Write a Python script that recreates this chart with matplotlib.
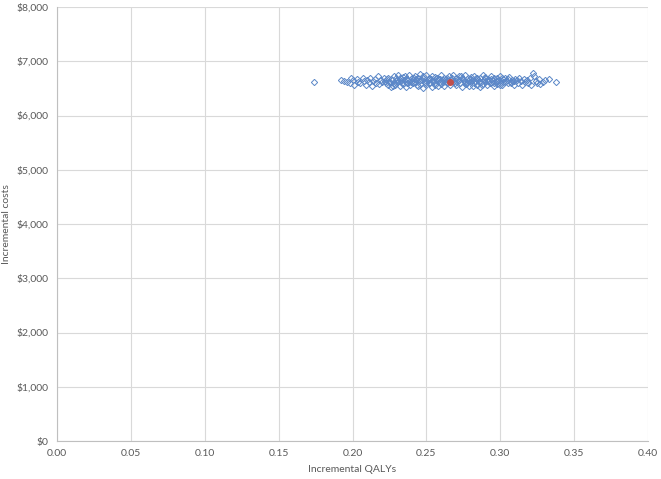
import matplotlib
matplotlib.use("Agg")
import matplotlib.pyplot as plt
from matplotlib.ticker import FuncFormatter

# probabilistic sensitivity analysis draws
qaly_left = [0.174, 0.192, 0.194, 0.196, 0.198, 0.199, 0.200, 0.201, 0.203, 0.204,
             0.205, 0.207, 0.208, 0.209, 0.210, 0.211, 0.212, 0.213, 0.214, 0.215,
             0.216, 0.217, 0.218, 0.219, 0.220, 0.221]
cost_left = [6610, 6660, 6640, 6620, 6600, 6700, 6650, 6560, 6680, 6620,
             6590, 6700, 6640, 6570, 6660, 6610, 6690, 6550, 6630, 6670,
             6600, 6720, 6580, 6650, 6620, 6690]

qaly_core = [0.222, 0.223, 0.224, 0.224, 0.225, 0.226, 0.226, 0.227, 0.228, 0.228,
             0.229, 0.230, 0.230, 0.231, 0.232, 0.232, 0.233, 0.234, 0.234, 0.235,
             0.236, 0.236, 0.237, 0.238, 0.238, 0.239, 0.240, 0.240, 0.241, 0.242,
             0.242, 0.243, 0.244, 0.244, 0.245, 0.246, 0.246, 0.247, 0.248, 0.248,
             0.249, 0.250, 0.250, 0.251, 0.252, 0.252, 0.253, 0.254, 0.254, 0.255,
             0.256, 0.256, 0.257, 0.258, 0.258, 0.259, 0.260, 0.260, 0.261, 0.262,
             0.262, 0.263, 0.264, 0.264, 0.265, 0.266, 0.267, 0.268, 0.268, 0.269,
             0.270, 0.270, 0.271, 0.272, 0.272, 0.273, 0.274, 0.274, 0.275, 0.276,
             0.276, 0.277, 0.278, 0.278, 0.279, 0.280, 0.280, 0.281, 0.282, 0.282,
             0.283, 0.284, 0.284, 0.285, 0.286, 0.286, 0.287, 0.288, 0.288, 0.289,
             0.290, 0.290, 0.291, 0.292, 0.292, 0.293, 0.294, 0.294, 0.295, 0.296,
             0.296, 0.297, 0.298, 0.298, 0.299, 0.300, 0.300, 0.301, 0.302, 0.302,
             0.303, 0.304, 0.305, 0.306, 0.307, 0.308, 0.309, 0.310]
cost_core = [6640, 6590, 6700, 6560, 6620, 6680, 6530, 6650, 6600, 6720,
             6570, 6660, 6610, 6740, 6540, 6690, 6630, 6580, 6710, 6650,
             6520, 6680, 6600, 6750, 6620, 6560, 6700, 6640, 6590, 6730,
             6610, 6670, 6540, 6700, 6630, 6760, 6580, 6660, 6510, 6690,
             6620, 6740, 6570, 6650, 6700, 6600, 6680, 6530, 6720, 6640,
             6590, 6710, 6660, 6550, 6680, 6620, 6740, 6580, 6650, 6700,
             6540, 6630, 6690, 6600, 6720, 6570, 6660, 6610, 6750, 6640,
             6690, 6560, 6620, 6730, 6650, 6590, 6700, 6520, 6670, 6610,
             6740, 6580, 6640, 6690, 6550, 6710, 6620, 6660, 6590, 6730,
             6630, 6570, 6700, 6650, 6530, 6690, 6610, 6740, 6580, 6660,
             6620, 6710, 6560, 6680, 6640, 6590, 6730, 6610, 6660, 6540,
             6700, 6630, 6580, 6690, 6650, 6720, 6600, 6560, 6670, 6620,
             6690, 6640, 6590, 6710, 6620, 6660, 6570, 6680]

qaly_fill = [0.2235, 0.2255, 0.2275, 0.2295, 0.2315, 0.2335, 0.2355, 0.2375, 0.2395, 0.2415,
             0.2435, 0.2455, 0.2475, 0.2495, 0.2515, 0.2535, 0.2555, 0.2575, 0.2595, 0.2615,
             0.2635, 0.2655, 0.2675, 0.2695, 0.2715, 0.2735, 0.2755, 0.2775, 0.2795, 0.2815,
             0.2835, 0.2855, 0.2875, 0.2895, 0.2915, 0.2935, 0.2955, 0.2975, 0.2995, 0.3015,
             0.3035, 0.3055, 0.3075, 0.3095]
cost_fill = [6670, 6610, 6550, 6700, 6640, 6590, 6720, 6660, 6610, 6690,
             6560, 6650, 6720, 6600, 6680, 6630, 6560, 6700, 6680, 6610,
             6670, 6650, 6700, 6590, 6680, 6720, 6640, 6600, 6670, 6550,
             6690, 6610, 6560, 6700, 6630, 6670, 6590, 6640, 6560, 6700,
             6620, 6670, 6600, 6640]

qaly_right = [0.311, 0.312, 0.313, 0.314, 0.315, 0.316, 0.317, 0.318, 0.319, 0.320,
              0.321, 0.322, 0.323, 0.324, 0.325, 0.326, 0.327, 0.329, 0.330, 0.333,
              0.338]
cost_right = [6650, 6600, 6700, 6630, 6560, 6680, 6620, 6650, 6590, 6700,
              6560, 6790, 6720, 6640, 6600, 6680, 6580, 6620, 6650, 6670,
              6620]

mean_qaly = 0.266
mean_cost = 6625

qalys = qaly_left + qaly_core + qaly_fill + qaly_right
costs = cost_left + cost_core + cost_fill + cost_right

plt.rcParams['font.family'] = ['Lato', 'DejaVu Sans']

fig = plt.figure(figsize=(6.61, 4.79), dpi=100)
ax = fig.add_axes([57 / 661, 1 - 441 / 479, (648 - 57) / 661, (441 - 7) / 479])

ax.plot(qalys, costs, 'D', markersize=3.2, markerfacecolor='none',
        markeredgecolor='#5B87C8', markeredgewidth=0.7, linestyle='none')
ax.plot([mean_qaly], [mean_cost], 'o', markersize=4, color='#C0504D')

ax.set_xlim(0, 0.40)
ax.set_ylim(0, 8000)
ax.set_xticks([i * 0.05 for i in range(9)])
ax.set_yticks(range(0, 8001, 1000))
ax.xaxis.set_major_formatter(FuncFormatter(lambda v, p: '{:.2f}'.format(v)))
ax.yaxis.set_major_formatter(FuncFormatter(lambda v, p: '${:,.0f}'.format(v)))

ax.grid(True, color='#D9D9D9', linewidth=0.8)
ax.set_axisbelow(True)
for s in ['top', 'right']:
    ax.spines[s].set_visible(False)
for s in ['left', 'bottom']:
    ax.spines[s].set_color('#BFBFBF')
    ax.spines[s].set_linewidth(0.8)
ax.tick_params(length=0, labelsize=7.5, colors='#595959', pad=6)

ax.set_xlabel('Incremental QALYs', fontsize=7.5, color='#595959', labelpad=5)
ax.set_ylabel('Incremental costs', fontsize=7.5, color='#595959', labelpad=4)

fig.savefig('out.png', dpi=100)
